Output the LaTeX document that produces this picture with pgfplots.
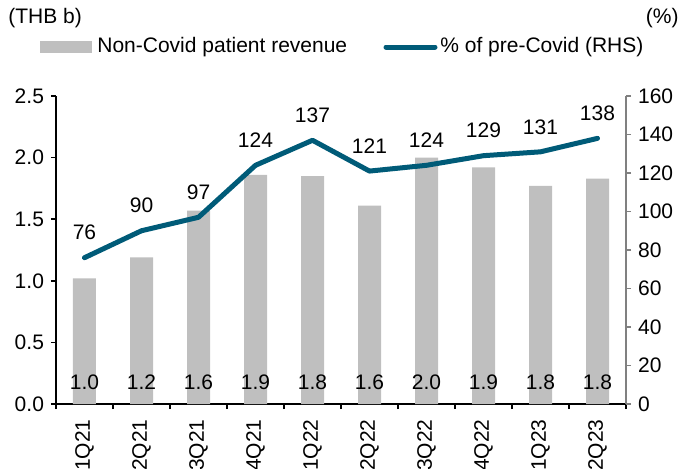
\documentclass[border=0pt]{standalone}
\usepackage{fontspec}
\setmainfont{Liberation Sans}
\usepackage{pgfplots}
\pgfplotsset{compat=1.18}
\definecolor{barc}{RGB}{191,191,191}
\definecolor{linec}{RGB}{0,91,120}
\definecolor{raxis}{RGB}{128,128,128}
\begin{document}
\begin{tikzpicture}[font=\fontsize{10.5}{12}\selectfont]
\path[use as bounding box] (-28pt,-32pt) rectangle (312.5pt,202pt);
\begin{axis}[
  at={(0pt,0pt)}, anchor=south west,
  scale only axis, width=285pt, height=154pt,
  xmin=-0.5, xmax=9.5, ymin=0, ymax=2.5,
  axis x line*=bottom, axis y line*=left,
  axis line style={black, line width=0.75pt, -},
  xtick={0,...,9},
  xticklabels={1Q21,2Q21,3Q21,4Q21,1Q22,2Q22,3Q22,4Q22,1Q23,2Q23},
  major x tick style={draw=none},
  minor xtick={-0.5,0.5,...,9.5},
  x tick label style={rotate=90, anchor=east, inner sep=0pt, xshift=-5pt},
  ytick={0,0.5,...,2.5},
  y tick label style={/pgf/number format/.cd, fixed, fixed zerofill, precision=1},
  tick align=outside, major tick length=2.5pt, minor tick length=2.5pt,
  tick style={black, line width=0.75pt},
  /pgf/number format/assume math mode=true,
  clip=false,
]
\addplot[ybar, bar width=11.5pt, fill=barc, draw=none] coordinates {
  (0,1.02) (1,1.19) (2,1.57) (3,1.86) (4,1.85) (5,1.61) (6,2.00) (7,1.92) (8,1.77) (9,1.83)};
\node[yshift=11pt] at (axis cs:0,0) {1.0};
\node[yshift=11pt] at (axis cs:1,0) {1.2};
\node[yshift=11pt] at (axis cs:2,0) {1.6};
\node[yshift=11pt] at (axis cs:3,0) {1.9};
\node[yshift=11pt] at (axis cs:4,0) {1.8};
\node[yshift=11pt] at (axis cs:5,0) {1.6};
\node[yshift=11pt] at (axis cs:6,0) {2.0};
\node[yshift=11pt] at (axis cs:7,0) {1.9};
\node[yshift=11pt] at (axis cs:8,0) {1.8};
\node[yshift=11pt] at (axis cs:9,0) {1.8};
\end{axis}
\begin{axis}[
  at={(0pt,0pt)}, anchor=south west,
  scale only axis, width=285pt, height=154pt,
  xmin=-0.5, xmax=9.5, ymin=0, ymax=160,
  axis y line*=right, axis x line=none,
  axis line style={raxis, line width=0.75pt, -},
  ytick={0,20,...,160},
  y tick label style={anchor=west},
  tick align=outside, major tick length=2.5pt,
  tick style={raxis, line width=0.75pt},
  /pgf/number format/assume math mode=true,
  clip=false,
]
\addplot[linec, line width=2.5pt, line cap=round, line join=round, mark=none,
  nodes near coords,
  every node near coord/.append style={black, anchor=center, yshift=12.5pt}]
  coordinates {(0,76) (1,90) (2,97) (3,124) (4,137) (5,121) (6,124) (7,129) (8,131) (9,138)};
\end{axis}
\node[anchor=west, inner sep=0pt] at (-24pt,193pt) {(THB b)};
\node[anchor=east, inner sep=0pt] at (311.5pt,193pt) {(\%)};
\fill[barc] (-8pt,175.5pt) rectangle (18pt,181.5pt);
\node[anchor=west, inner sep=0pt] at (20.5pt,178.5pt) {Non-Covid patient revenue};
\draw[linec, line width=2.5pt, line cap=round] (165pt,178.5pt) -- (189.5pt,178.5pt);
\node[anchor=west, inner sep=0pt] at (192pt,178.5pt) {\% of pre-Covid (RHS)};
\end{tikzpicture}
\end{document}
